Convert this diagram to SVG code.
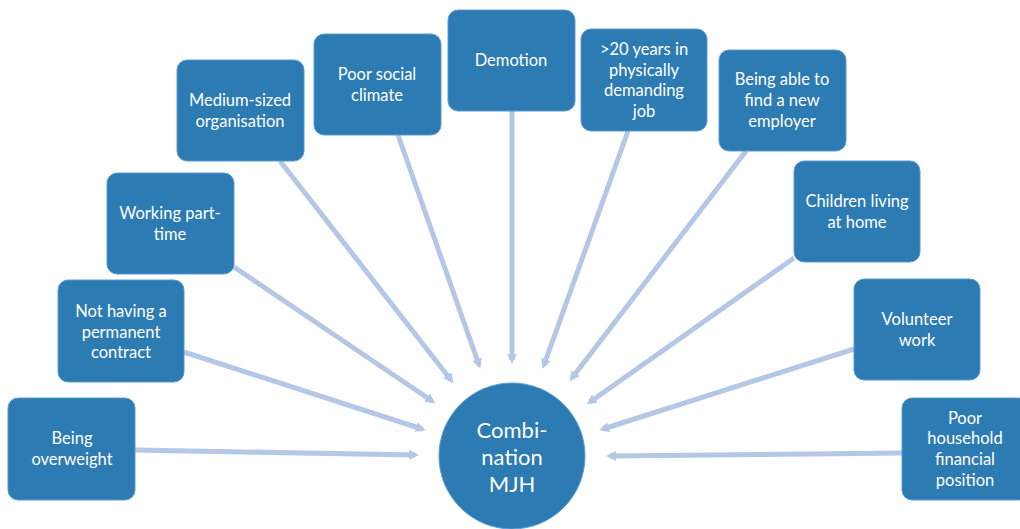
<svg xmlns="http://www.w3.org/2000/svg" width="1020" height="529" viewBox="0 0 1020 529">
<style>
.box{fill:#2c7bb3;stroke:#5b9bd5;stroke-width:1}
.t{font-family:Lato,"Open Sans",sans-serif;font-size:16.5px;fill:#ffffff;text-anchor:middle}
.ct{font-family:Lato,"Open Sans",sans-serif;font-size:22px;fill:#ffffff;text-anchor:middle}
.c{stroke:#b4c7e7;stroke-width:5;fill:none;marker-end:url(#ah)}
</style>
<defs>
<marker id="ah" viewBox="0 0 10 10" refX="6" refY="5" markerWidth="2" markerHeight="2" orient="auto" markerUnits="strokeWidth">
<path d="M0,0 L10,5 L0,10 z" fill="#b4c7e7"/>
</marker>
</defs>
<rect width="1020" height="529" fill="#ffffff"/>
<g id="connectors">
<line class="c" x1="135" y1="450" x2="415" y2="455"/>
<line class="c" x1="184" y1="352" x2="422" y2="429"/>
<line class="c" x1="234" y1="267" x2="432" y2="401"/>
<line class="c" x1="280" y1="161" x2="451" y2="380"/>
<line class="c" x1="398" y1="135" x2="479" y2="365"/>
<line class="c" x1="512" y1="111" x2="512" y2="360"/>
<line class="c" x1="628" y1="131" x2="544" y2="365"/>
<line class="c" x1="746" y1="151" x2="572" y2="378"/>
<line class="c" x1="794" y1="258" x2="590" y2="402"/>
<line class="c" x1="854" y1="349" x2="603" y2="429"/>
<line class="c" x1="902" y1="453" x2="610" y2="456"/>
</g>
<g id="n1"><rect class="box" x="8" y="398" width="127" height="102" rx="10"/><text class="t" x="72" y="444">Being</text><text class="t" x="72" y="465">overweight</text></g>
<g id="n2"><rect class="box" x="58" y="280" width="126" height="102" rx="10"/><text class="t" x="121" y="317">Not having a</text><text class="t" x="121" y="338">permanent</text><text class="t" x="121" y="358">contract</text></g>
<g id="n3"><rect class="box" x="107" y="173" width="127" height="101" rx="10"/><text class="t" x="170" y="219">Working part-</text><text class="t" x="170" y="240">time</text></g>
<g id="n4"><rect class="box" x="177" y="60" width="127" height="101" rx="10"/><text class="t" x="240" y="106">Medium-sized</text><text class="t" x="240" y="127">organisation</text></g>
<g id="n5"><rect class="box" x="314" y="34" width="127" height="101" rx="10"/><text class="t" x="377" y="80">Poor social</text><text class="t" x="377" y="101">climate</text></g>
<g id="n6"><rect class="box" x="448" y="10" width="127" height="101" rx="10"/><text class="t" x="511" y="66">Demotion</text></g>
<g id="n7"><rect class="box" x="581" y="29" width="126" height="102" rx="10"/><text class="t" x="644" y="55">&gt;20 years in</text><text class="t" x="644" y="76">physically</text><text class="t" x="644" y="96">demanding</text><text class="t" x="644" y="117">job</text></g>
<g id="n8"><rect class="box" x="719" y="50" width="127" height="101" rx="10"/><text class="t" x="782" y="85">Being able to</text><text class="t" x="782" y="106">find a new</text><text class="t" x="782" y="127">employer</text></g>
<g id="n9"><rect class="box" x="794" y="161" width="126" height="101" rx="10"/><text class="t" x="857" y="207">Children living</text><text class="t" x="857" y="228">at home</text></g>
<g id="n10"><rect class="box" x="854" y="279" width="126" height="101" rx="10"/><text class="t" x="917" y="325">Volunteer</text><text class="t" x="917" y="346">work</text></g>
<g id="n11"><rect class="box" x="902" y="398" width="127" height="102" rx="10"/><text class="t" x="965" y="424">Poor</text><text class="t" x="965" y="444">household</text><text class="t" x="965" y="465">financial</text><text class="t" x="965" y="486">position</text></g>
<g id="center"><circle class="box" cx="512" cy="456" r="73"/><text class="ct" x="512" y="438">Combi-</text><text class="ct" x="512" y="465">nation</text><text class="ct" x="512" y="492">MJH</text></g>
</svg>
